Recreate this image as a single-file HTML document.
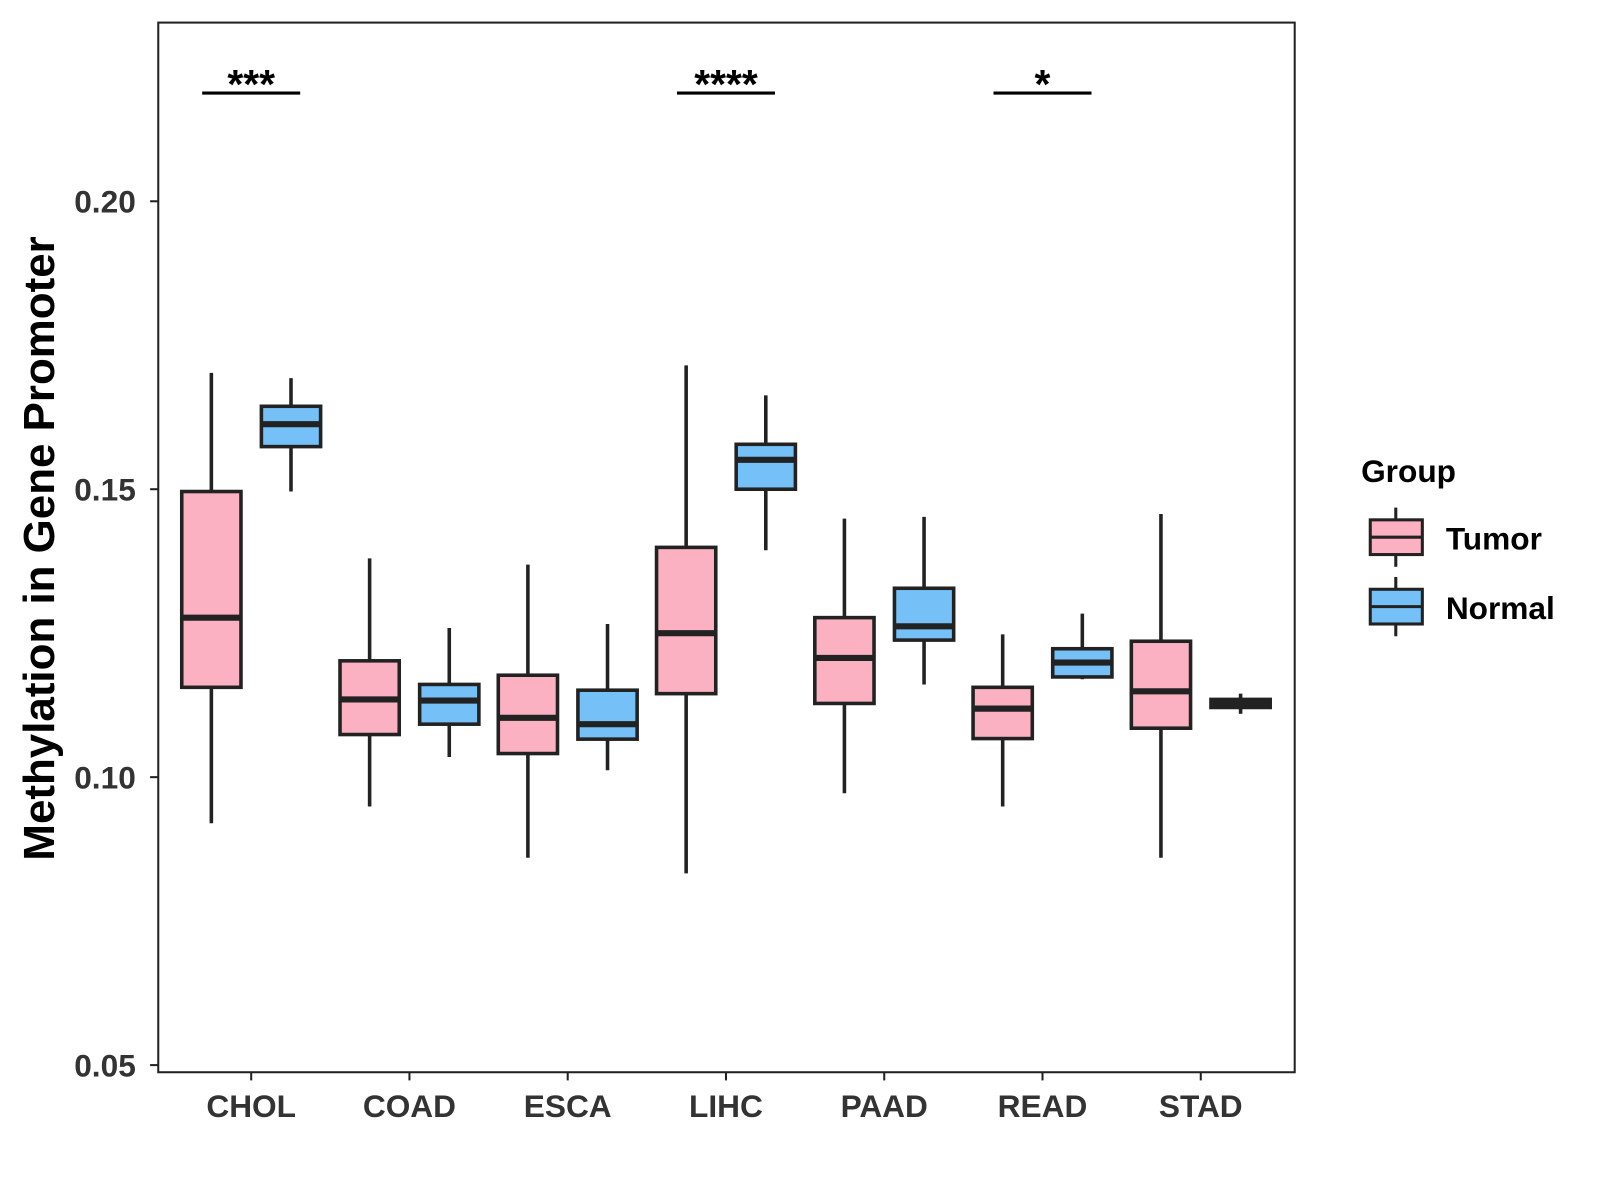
<!DOCTYPE html>
<html><head><meta charset="utf-8"><style>
body{margin:0;background:#fff;}
svg{display:block;font-family:"Liberation Sans",Arial,sans-serif;}
</style></head><body>
<svg id="chart" width="1600" height="1200" viewBox="0 0 1567 1175">
<rect x="155" y="22" width="1113" height="1028" fill="#fff" stroke="#222" stroke-width="2"/>
<g id="marks"></g>
<text transform="translate(53,537) rotate(-90)" text-anchor="middle" font-size="43" font-weight="bold" fill="#000">Methylation in Gene Promoter</text>
<g>
<text x="1333" y="472" font-size="31" font-weight="bold">Group</text>
<g>
<line x1="1367" y1="497" x2="1367" y2="555" stroke="#222" stroke-width="3"/>
<rect x="1342" y="509" width="51" height="34" fill="#FBB1C2" stroke="#222" stroke-width="3"/>
<line x1="1342" y1="526" x2="1393" y2="526" stroke="#222" stroke-width="3"/>
<text x="1416" y="538" font-size="31" font-weight="bold">Tumor</text></g>
<g>
<line x1="1367" y1="565" x2="1367" y2="623" stroke="#222" stroke-width="3"/>
<rect x="1342" y="577" width="51" height="34" fill="#74C0F7" stroke="#222" stroke-width="3"/>
<line x1="1342" y1="594" x2="1393" y2="594" stroke="#222" stroke-width="3"/>
<text x="1416" y="606" font-size="31" font-weight="bold">Normal</text></g>
</g>
</svg>
<script>
const categories=["CHOL","COAD","ESCA","LIHC","PAAD","READ","STAD"];
const tumorStats=[[0.092,0.1156,0.1277,0.1496,0.1702],[0.0949,0.1074,0.1135,0.1202,0.138],[0.086,0.1041,0.1103,0.1177,0.1369],[0.0833,0.1145,0.125,0.1399,0.1715],[0.0972,0.1128,0.1207,0.1277,0.1449],[0.0949,0.1067,0.1119,0.1156,0.1248],[0.086,0.1085,0.1149,0.1236,0.1457]];
const normalStats=[[0.1496,0.1574,0.1613,0.1644,0.1693],[0.1035,0.1092,0.1133,0.1161,0.1259],[0.1012,0.1066,0.1092,0.1151,0.1266],[0.1394,0.15,0.1551,0.1578,0.1663],[0.1161,0.1238,0.1262,0.1328,0.1452],[0.117,0.1174,0.1199,0.1223,0.1284],[0.111,0.1121,0.1128,0.1135,0.1145]];
const yTicks=[0.05,0.10,0.15,0.20];
const yTickLabels=["0.05","0.10","0.15","0.20"];
const sigLabels=["***","","","****","","*",""];
const NS="http://www.w3.org/2000/svg";
const g=document.getElementById('marks');
function y(v){return 197+(0.20-v)*5640;}
function x(i){return 246+i*155;}
function el(t,a,p){const e=document.createElementNS(NS,t);for(const k in a)e.setAttribute(k,a[k]);(p||g).appendChild(e);return e;}
yTicks.forEach((t,i)=>{
 const l=el('line',{x1:147,x2:155,y1:y(t),y2:y(t),stroke:'#222','stroke-width':2});
 
 
 const tx=el('text',{x:133,y:y(t)+11,'text-anchor':'end','font-size':31,'font-weight':'bold',fill:'#333'});
 tx.textContent=yTickLabels[i];
 
 
});
function box(cx,s,fill,name){
 const grp=el('g',{});
 
 
 el('line',{x1:cx,x2:cx,y1:y(s[4]),y2:y(s[0]),stroke:'#222','stroke-width':3.5},grp);
 el('rect',{x:cx-29,y:y(s[3]),width:58,height:Math.max(y(s[1])-y(s[3]),1),fill:fill,stroke:'#222','stroke-width':3.5},grp);
 el('line',{x1:cx-29,x2:cx+29,y1:y(s[2]),y2:y(s[2]),stroke:'#222','stroke-width':6},grp);
}
categories.forEach((c,i)=>{
 const cx=x(i);
 box(cx-39,tumorStats[i],'#FBB1C2','box-tumor-'+c.toLowerCase());
 box(cx+39,normalStats[i],'#74C0F7','box-normal-'+c.toLowerCase());
 const tk=el('line',{x1:cx,x2:cx,y1:1050,y2:1058,stroke:'#222','stroke-width':2});
 
 
 const t=el('text',{x:cx,y:1094,'text-anchor':'middle','font-size':31,'font-weight':'bold',fill:'#333'});
 t.textContent=c;
 
 
 if(sigLabels[i]){
  const sl=el('line',{x1:cx-48,x2:cx+48,y1:91,y2:91,stroke:'#000','stroke-width':3});
  
  
  const st=el('text',{x:cx,y:96,'text-anchor':'middle','font-size':40,'font-weight':'bold'});
  st.textContent=sigLabels[i];
  
  
 }
});
</script>
</body></html>
